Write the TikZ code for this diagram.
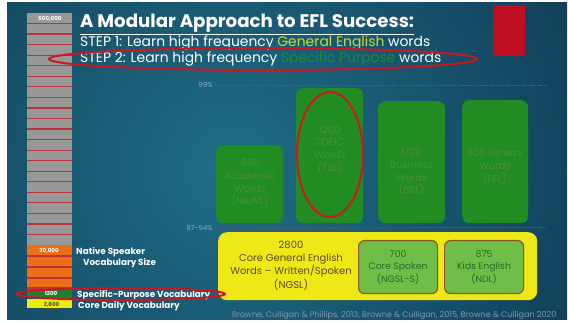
\documentclass[tikz,border=0pt]{standalone}
\usepackage{xcolor}
\usepackage{fontspec}
\setmainfont{Poppins}
\usepackage{tikz}
\usetikzlibrary{shapes.geometric}
\definecolor{bgnavy}{RGB}{12, 40, 68}
\definecolor{bgteal}{RGB}{30, 110, 134}
\definecolor{ringred}{RGB}{205, 22, 32}
\definecolor{blockred}{RGB}{190, 14, 34}
\definecolor{stripered}{RGB}{185, 52, 58}
\definecolor{bargray}{RGB}{152, 152, 150}
\definecolor{barorange}{RGB}{236, 110, 22}
\definecolor{bargreen}{RGB}{34, 128, 42}
\definecolor{baryellow}{RGB}{238, 236, 10}
\definecolor{genyellow}{RGB}{200, 222, 40}
\definecolor{specgreen}{RGB}{30, 140, 52}
\definecolor{boxgreen}{RGB}{32, 140, 34}
\definecolor{boxtextgreen}{RGB}{78, 142, 66}
\definecolor{coreyellow}{RGB}{240, 232, 22}
\definecolor{coretext}{RGB}{88, 78, 20}
\definecolor{lightgreen}{RGB}{112, 190, 72}
\definecolor{ringbrown}{RGB}{140, 88, 38}
\definecolor{kidtext}{RGB}{40, 104, 40}
\definecolor{pctblue}{RGB}{140, 172, 200}
\definecolor{citegray}{RGB}{130, 150, 176}

\begin{document}
\begin{tikzpicture}[x=1pt, y=-1pt,
    ring/.style={draw=ringred, line width=2pt},
    pctline/.style={stripered, line width=0.9pt, dash pattern=on 1.5pt off 0.8pt},
    pctlabel/.style={text=pctblue, font=\fontsize{7}{8}\selectfont, anchor=east, inner sep=2pt},
    greenbox/.style={rectangle, rounded corners=7pt, fill=boxgreen, anchor=north west, inner sep=0pt},
    boxtext/.style={text=boxtextgreen, align=center, font=\fontsize{10}{12.8}\selectfont},
    innerbox/.style={rectangle, rounded corners=6pt, fill=lightgreen, draw=ringbrown, line width=1.2pt,
        anchor=north west, minimum width=79pt, minimum height=53pt, text=kidtext, align=center,
        font=\fontsize{9.3}{12.5}\selectfont},
    barlabel/.style={text=white, font=\bfseries\fontsize{8.8}{10}\selectfont, anchor=base west, inner sep=0pt},
    cellnum/.style={font=\bfseries\fontsize{5.5}{6}\selectfont, anchor=base, inner sep=0pt}]
    \useasboundingbox (0,0) rectangle (568,323);
    % 背景
    \fill[white] (0,0) rectangle (568,323);
    \begin{scope}
        \clip (7,3) rectangle (567,320);
        \fill[bgnavy] (7,3) rectangle (567,320);
        \shade[inner color=bgteal, outer color=bgnavy] (230,170) circle (560);
    \end{scope}
    \fill[blockred] (493,5) rectangle (525,56);

    % 左边的词汇量柱
    \fill[bargray] (27,13) rectangle (72,245);
    \foreach \k in {1,...,21}
        \draw[stripered, line width=1.2pt] (27,13+10.55*\k) -- (72,13+10.55*\k);
    \fill[barorange] (27,245) rectangle (72,289);
    \foreach \yy in {256, 267, 278, 288}
        \draw[stripered, line width=1.2pt] (27,\yy) -- (72,\yy);
    \fill[bargreen] (27,289) rectangle (72,298);
    \fill[baryellow] (27,299.5) rectangle (72,308);
    \node[cellnum, text=white] (cell600) at (50,21) {600,000};
    \node[cellnum, text=white] (cell30) at (49,253) {30,000};
    \node[cellnum, text=white] (cell1200) at (51,295.5) {1200};
    \node[cellnum, text=coretext] (cell2800) at (51.5,306.5) {\underline{2,800}};

    \node[barlabel] (native) at (76,255) {Native Speaker};
    \node[barlabel] (nativesize) at (83,266) {Vocabulary Size};
    \node[barlabel] (specific) at (77,298) {Specific-Purpose Vocabulary};
    \node[barlabel] (coredaily) at (78,308.5) {Core Daily Vocabulary};

    % 标题
    \node[text=white, anchor=base west, inner sep=0pt, font=\bfseries\fontsize{18.2}{20}\selectfont]
        (title) at (80,28) {\underline{A Modular Approach to EFL Success:}};
    \node[text=white, anchor=base west, inner sep=0pt, font=\fontsize{13.9}{15}\selectfont]
        (step1) at (80,47) {STEP 1: Learn high frequency \textcolor{genyellow}{General English} words};
    \node[text=white, anchor=base west, inner sep=0pt, font=\fontsize{13.9}{15}\selectfont]
        (step2) at (80,63) {STEP 2: Learn high frequency \textcolor{specgreen}{Specific Purpose} words};

    % 百分比线
    \node[pctlabel] (pct99) at (215,85) {99\%};
    \coordinate (end99) at (547,85);
    \draw[pctline] (pct99.east) -- (end99);
    \node[pctlabel] (pct87) at (215,228) {87-94\%};
    \coordinate (end87) at (545,227.5);
    \draw[pctline] (pct87.east) -- (end87);

    % 专门用途词表
    \node[greenbox, minimum width=67pt, minimum height=78pt] (nawl) at (216,145) {};
    \node[greenbox, minimum width=67pt, minimum height=135pt] (tsl) at (296,88) {};
    \node[greenbox, minimum width=67pt, minimum height=122pt] (bsl) at (378,101) {};
    \node[greenbox, minimum width=66pt, minimum height=123pt] (fel) at (462,100) {};
    \node[boxtext] (nawltxt) at (250,183) {960\\Academic\\Words\\(NAWL)};
    \node[boxtext] (tsltxt) at (330,149.5) {1200\\TOEIC\\Words\\(TSL)};
    \node[boxtext] (bsltxt) at (411.5,172) {1700\\Business\\Words\\(BSL)};
    \node[boxtext] (feltxt) at (495,166.5) {600 Fitness\\Words\\(FEL)};

    % 核心词表
    \node[rectangle, rounded corners=9pt, fill=coreyellow, anchor=north west, inner sep=0pt,
        minimum width=319pt, minimum height=68pt] (core) at (218,232) {};
    \node[text=coretext, align=center, font=\fontsize{10}{13.2}\selectfont]
        (coretxt) at (291,265.5) {2800\\Core General English\\Words -- Written/Spoken\\(NGSL)};
    \node[innerbox] (ngsls) at (358,240) {700\\Core Spoken\\(NGSL-S)};
    \node[innerbox] (ndl) at (444,240) {875\\Kids English\\(NDL)};

    % 红圈
    \draw[ring] (263,59) ellipse [x radius=214, y radius=11];
    \draw[ring] (330,154.5) ellipse [x radius=33, y radius=62.5];
    \draw[ring] (121,294) ellipse [x radius=104, y radius=6];

    \node[text=citegray, anchor=base west, inner sep=0pt, font=\fontsize{8.1}{9}\selectfont]
        (cite) at (232,317) {Browne, Culligan \& Phillips, 2013, Browne \& Culligan, 2015, Browne \& Culligan 2020};
\end{tikzpicture}
\end{document}
